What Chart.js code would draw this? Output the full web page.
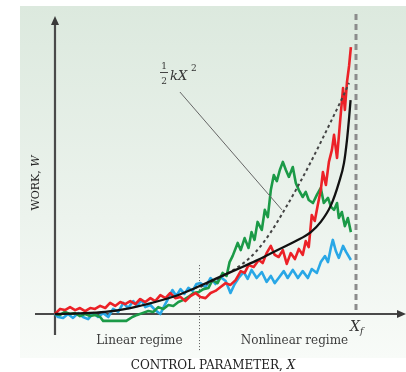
<!DOCTYPE html>
<html>
<head>
<meta charset="utf-8">
<script src="https://cdn.jsdelivr.net/npm/chart.js@4/dist/chart.umd.min.js"></script>
<style>
  html, body { margin: 0; padding: 0; background: #fff; }
  #wrap { width: 406px; height: 372px; }
</style>
</head>
<body>
<div id="wrap"><canvas id="myChart" width="406" height="372"></canvas></div>
<script>
// X in % of X_f, W in arbitrary units
const X_F = 100;
const REGIME_SPLIT = 47.8;

const redPts = [
  [0,0],[1.7,1.7],[3.3,1.3],[5,2.3],[6.7,1.3],[8.3,2],[10,1],[11.7,2],[13.3,1.7],[15,2.7],
  [16.7,2],[18.3,3.7],[20,2.7],[21.7,4],[23.3,3.3],[25,4.3],[26.7,3.3],[28.3,5],[30,4],[31.7,5.3],
  [33.3,4.3],[35,6.3],[36.7,5.3],[38.3,7],[40,5.3],[41.7,5.7],[43.3,4.3],[45,6],[46.7,7],[48.3,5.7],
  [50,5.3],[51.7,7],[53.3,7.7],[55,9],[56.7,10.3],[58.3,9.7],[60,11.3],[61.7,14.3],[63,13.7],[64.3,16.3],
  [66,15.7],[67.7,18],[69,17],[70.3,20.3],[71.7,22.7],[73,19.7],[74.3,19],[75.7,21.3],[77,16.7],[78.3,20.3],
  [79.7,18.3],[81,21.7],[82.3,19.7],[83.3,24.3],[84.3,22.3],[85.3,33],[86.3,31],[87.3,36.3],[88.3,41.3],[89,47.3],
  [90,43],[91,50.7],[92,54.7],[92.7,59.7],[93.7,52],[94.7,64],[95.7,75.3],[96.3,68],[97,77.3],[97.7,82.7],[98.3,89]
];

const greenPts = [
  [0,0],[1.7,-0.3],[3.3,0.7],[5,0],[6.7,0.3],[8.3,-0.7],[10,0],[11.7,-0.7],[13.3,-0.3],[15,-1],
  [16,-2.3],[18.3,-2.3],[21,-2.3],[23.7,-2.3],[25.7,-1],[27.3,-0.3],[29,0.3],[31,1],[32.7,0.7],[34.3,2.3],
  [36,1.7],[37.7,3],[39.3,2.7],[41,4],[42.7,4.7],[44.3,5.7],[46,7],[47.7,7.3],[49.3,8.3],[51,8.7],
  [52.3,11.3],[54,10.3],[55.7,13.7],[57,12.7],[58,17.3],[59,19.3],[60.7,23.7],[61.7,21.3],[63,25.3],[64.3,22],
  [65.3,27.3],[66.3,24.7],[67.3,30.7],[68.7,28],[69.7,34.7],[70.7,32.3],[71.7,41.3],[72.7,46.3],[73.7,44.3],[74.7,48],
  [75.7,50.7],[76.7,48],[77.7,45.7],[79,49],[80,43.7],[81,41.3],[82.3,39],[83.3,40.7],[84.3,38],[85.7,37],
  [87,39.7],[88.3,42],[89.3,37],[90.7,38.7],[91.7,35.7],[92.7,34.7],[93.7,37],[94.3,32],[95.3,34],[96.3,29.3],
  [97.3,32],[98.3,27.3]
];

const bluePts = [
  [0,0],[1,-1],[2.7,-1.3],[4.3,0],[6,-1.3],[7.7,0.3],[9.3,-1],[11,-1.7],[12.7,0.3],[14.3,-1],
  [16,0.3],[17.7,-1],[19.3,1.7],[21,0.7],[22.7,3.7],[24.3,2],[26,4.3],[27.3,2.7],[28.7,4.7],[30,2.3],
  [31.7,3],[33.3,1.3],[35,0],[36.3,2.7],[37.7,5.3],[39,8],[40.3,6],[41.7,8.3],[43,6.7],[44.3,8.7],
  [45.7,7.7],[47,10],[48.3,10.3],[50,9],[51.7,12],[53.3,10],[55,12.3],[56.7,11],[58.3,7],[59.7,10],
  [61,12],[62.7,14],[64,11.7],[65.3,14.7],[67,12],[68.7,14],[70.3,10.7],[71.7,12.7],[73,10.3],[74.3,12],
  [76,14.3],[77.3,12],[79,14.7],[80.7,12],[82.3,14.3],[84,12],[85.3,15],[87,13.7],[88.3,17.3],[89.7,19.3],
  [90.7,17.3],[91.7,22.3],[92.3,24.7],[93.3,21],[94.3,18.7],[95.7,22.7],[96.7,20.7],[98.3,18]
];

// mean work, smooth
const meanPts = [
  [0,0],[8.3,0.2],[16.7,0.7],[25,2],[33.3,4],[40,6],[46.7,8.7],[53.3,11.7],[60,14.7],[66.7,17.7],
  [73.3,21],[80,24.3],[85,27.3],[88.3,30.7],[91.7,36.3],[94.3,43.7],[96,50.3],[97,58],[97.7,65.3],[98.2,71.3]
];

// 1/2 k X^2 (dashed)
const springPts = [
  [48.3,9],[55,12.3],[61.7,16.3],[66.7,20.7],[71.7,27.3],[76,34.3],[80,41.3],[85,50.7],[89,58.7],[92.7,66.3],
  [95.3,71.7],[97.7,77]
];

const toXY = pts => pts.map(p => ({ x: p[0], y: p[1] }));

const decor = {
  id: 'decor',
  beforeDraw(chart) {
    const ctx = chart.ctx;
    ctx.save();
    ctx.fillStyle = '#ffffff';
    ctx.fillRect(0, 0, chart.width, chart.height);
    const g = ctx.createLinearGradient(0, 6, 0, 358);
    g.addColorStop(0, '#dce9de');
    g.addColorStop(0.6, '#ecf3ed');
    g.addColorStop(1, '#f8fbf8');
    ctx.fillStyle = g;
    ctx.fillRect(20, 6, chart.width - 20, 352);

    const xs = chart.scales.x, ys = chart.scales.y;
    const ox = xs.getPixelForValue(0), oy = ys.getPixelForValue(0);

    // X_f dashed line
    const fx = xs.getPixelForValue(X_F);
    ctx.strokeStyle = '#8c8c8c';
    ctx.lineWidth = 3;
    ctx.setLineDash([6, 4]);
    ctx.beginPath();
    ctx.moveTo(fx, 14);
    ctx.lineTo(fx, oy);
    ctx.stroke();

    // regime separator
    const sx = Math.round(xs.getPixelForValue(REGIME_SPLIT)) + 0.5;
    ctx.strokeStyle = '#555';
    ctx.lineWidth = 1;
    ctx.setLineDash([1, 2]);
    ctx.beginPath();
    ctx.moveTo(sx, ys.getPixelForValue(16.3));
    ctx.lineTo(sx, ys.getPixelForValue(-12.7));
    ctx.stroke();
    ctx.setLineDash([]);

    // axes
    ctx.strokeStyle = '#4a4a4a';
    ctx.fillStyle = '#3a3a3a';
    ctx.lineWidth = 2.2;
    ctx.beginPath();
    ctx.moveTo(ox - 20, oy);
    ctx.lineTo(chart.width - 6, oy);
    ctx.moveTo(ox, oy + 21);
    ctx.lineTo(ox, 24);
    ctx.stroke();
    ctx.beginPath();
    ctx.moveTo(chart.width, oy);
    ctx.lineTo(chart.width - 9, oy - 4);
    ctx.lineTo(chart.width - 9, oy + 4);
    ctx.closePath();
    ctx.fill();
    ctx.beginPath();
    ctx.moveTo(ox, 16);
    ctx.lineTo(ox - 4, 25);
    ctx.lineTo(ox + 4, 25);
    ctx.closePath();
    ctx.fill();
    ctx.restore();
  },
  afterDraw(chart) {
    const ctx = chart.ctx;
    const xs = chart.scales.x, ys = chart.scales.y;
    const ox = xs.getPixelForValue(0), oy = ys.getPixelForValue(0);
    const fx = xs.getPixelForValue(X_F);
    const sx = xs.getPixelForValue(REGIME_SPLIT);
    ctx.save();
    ctx.textBaseline = 'alphabetic';

    // regime labels
    ctx.fillStyle = '#3c3c3c';
    ctx.font = '12px "DejaVu Serif"';
    ctx.textAlign = 'center';
    ctx.fillText('Linear regime', (ox + 25 + sx) / 2, oy + 30);
    ctx.fillText('Nonlinear regime', (sx + fx) / 2 + 17, oy + 30);

    // x axis title
    ctx.fillStyle = '#222';
    ctx.textAlign = 'left';
    const t1 = 'CONTROL PARAMETER, ';
    ctx.font = '12px "DejaVu Serif"';
    const w1 = ctx.measureText(t1).width;
    ctx.font = 'italic 12px "DejaVu Serif"';
    const w2 = ctx.measureText('X').width;
    const tx = 213 - (w1 + w2) / 2;
    ctx.font = '12px "DejaVu Serif"';
    ctx.fillText(t1, tx, 369);
    ctx.font = 'italic 12px "DejaVu Serif"';
    ctx.fillText('X', tx + w1, 369);

    // y axis title
    ctx.save();
    ctx.translate(39, 183);
    ctx.rotate(-Math.PI / 2);
    ctx.textAlign = 'left';
    ctx.font = '11px "DejaVu Serif"';
    const y1 = 'WORK, ';
    const yw1 = ctx.measureText(y1).width;
    ctx.font = 'italic 11px "DejaVu Serif"';
    const yw2 = ctx.measureText('W').width;
    ctx.font = '11px "DejaVu Serif"';
    ctx.fillText(y1, -(yw1 + yw2) / 2, 0);
    ctx.font = 'italic 11px "DejaVu Serif"';
    ctx.fillText('W', -(yw1 + yw2) / 2 + yw1, 0);
    ctx.restore();

    // X_f label
    ctx.fillStyle = '#333';
    ctx.font = 'italic 14px "DejaVu Serif"';
    ctx.fillText('X', fx - 6, oy + 17);
    ctx.font = 'italic 9px "DejaVu Serif"';
    ctx.fillText('f', fx + 4, oy + 20);

    // 1/2 k X^2 label with pointer
    ctx.fillStyle = '#333';
    ctx.textAlign = 'center';
    ctx.font = '9px "DejaVu Serif"';
    ctx.fillText('1', 164, 69);
    ctx.fillText('2', 164, 84);
    ctx.strokeStyle = '#444';
    ctx.lineWidth = 1;
    ctx.beginPath();
    ctx.moveTo(160, 72.5);
    ctx.lineTo(168, 72.5);
    ctx.stroke();
    ctx.textAlign = 'left';
    ctx.font = 'italic 13px "DejaVu Serif"';
    ctx.fillText('kX', 170, 80);
    ctx.font = '9px "DejaVu Serif"';
    ctx.fillText('2', 191, 71);

    ctx.strokeStyle = '#666';
    ctx.lineWidth = 1;
    ctx.beginPath();
    ctx.moveTo(xs.getPixelForValue(41.5), ys.getPixelForValue(74));
    ctx.lineTo(xs.getPixelForValue(75.4), ys.getPixelForValue(34.7));
    ctx.stroke();
    ctx.restore();
  }
};

const ctx = document.getElementById('myChart').getContext('2d');
const chart = new Chart(ctx, {
  type: 'line',
  data: {
    datasets: [
      { label: 'mean', data: toXY(meanPts), borderColor: '#111', borderWidth: 2.3, cubicInterpolationMode: 'monotone', order: 1 },
      { label: 'spring', data: toXY(springPts), borderColor: '#444', borderWidth: 2, borderDash: [3, 3], cubicInterpolationMode: 'monotone', order: 2 },
      { label: 'red', data: toXY(redPts), borderColor: '#ec2127', borderWidth: 2.6, order: 3 },
      { label: 'green', data: toXY(greenPts), borderColor: '#1b9a47', borderWidth: 2.6, order: 4 },
      { label: 'blue', data: toXY(bluePts), borderColor: '#29a7e6', borderWidth: 2.6, order: 5 }
    ]
  },
  options: {
    responsive: false,
    animation: false,
    devicePixelRatio: 1,
    layout: { padding: 0 },
    elements: { point: { radius: 0 }, line: { tension: 0, borderJoinStyle: 'round' } },
    plugins: { legend: { display: false }, tooltip: { enabled: false } },
    scales: {
      x: { type: 'linear', min: -18.27, max: 116.61, display: false },
      y: { type: 'linear', min: -19.33, max: 104.67, display: false }
    }
  },
  plugins: [decor]
});
</script>
</body>
</html>
